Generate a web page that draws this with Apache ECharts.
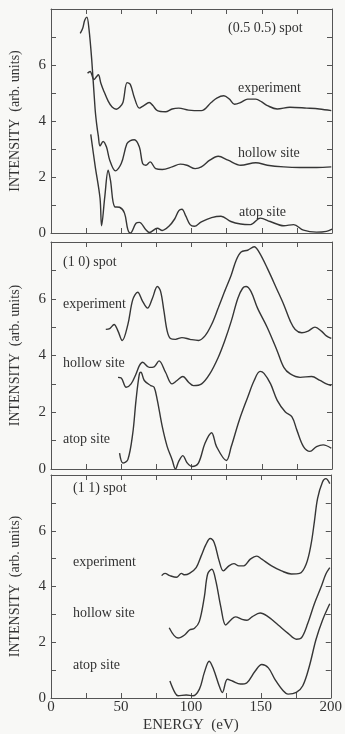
<!DOCTYPE html>
<html>
<head>
<meta charset="utf-8">
<script src="https://cdn.jsdelivr.net/npm/echarts@6/dist/echarts.min.js"></script>
<style>
html,body{margin:0;padding:0;background:#f8f8f6;}
#c{width:345px;height:734px;}
</style>
</head>
<body>
<div id="c"></div>
<script>
// ---- data: [energy (eV), intensity (arb. units)] ----
var xTicks = [0, 50, 100, 150, 200];
var yTicks = [0, 2, 4, 6];
var panelTitles = ['(0.5 0.5) spot', '(1 0) spot', '(1 1) spot'];
var curveNames = ['experiment', 'hollow site', 'atop site'];

var p1Experiment = [[26,5.71],[27.8,5.77],[30.6,5.48],[32.5,5.59],[33.7,5.65],[35.5,5.35],[37.2,5.12],[40.7,4.71],[43.5,4.5],[46.5,4.42],[49,4.5],[51.2,4.66],[54.2,5.37],[56.5,5.3],[59.3,4.84],[62.9,4.46],[66,4.55],[69.9,4.66],[72.5,4.55],[75.7,4.37],[81.5,4.33],[86.2,4.43],[90.9,4.46],[97.9,4.39],[107,4.37],[114,4.66],[118,4.82],[123,4.9],[127,4.78],[130.6,4.6],[135,4.66],[140,4.78],[145.8,4.78],[150,4.68],[154,4.55],[161,4.43],[170,4.49],[182,4.46],[191,4.43],[199.5,4.37]];
var p1Hollow = [[20.8,7.13],[22.5,7.3],[24,7.6],[25.5,7.71],[27,7.3],[29,6.18],[31.4,4.42],[32.5,3.89],[33.7,3.46],[34.9,3.11],[37.1,3.27],[39.5,3.07],[41.8,2.6],[45.8,2.22],[50,2.48],[54,3.19],[56.5,3.3],[59.3,3.33],[62.9,3.07],[65.2,2.48],[67.5,2.42],[70.6,2.54],[74.5,2.3],[79.2,2.27],[86.2,2.36],[92,2.46],[96.7,2.42],[102.6,2.3],[107,2.36],[113,2.6],[119,2.74],[126,2.6],[135,2.42],[145.8,2.51],[154,2.42],[165.7,2.36],[177,2.34],[189,2.34],[199.5,2.36]];
var p1Atop = [[28.3,3.52],[31.4,2.4],[34.9,1.24],[36,0.26],[38.3,1.3],[40.7,2.24],[42.3,1.89],[45.3,0.94],[48.8,0.92],[52.3,0.71],[54.7,0.12],[56.5,0.0],[60.5,0.35],[62.9,0.38],[67.5,0.12],[70,0.02],[75.7,0.17],[79.2,0.09],[83.9,0.24],[88,0.5],[91,0.8],[93.2,0.85],[96,0.6],[99,0.3],[102,0.24],[107,0.4],[114.3,0.55],[121,0.6],[128,0.41],[135,0.32],[142,0.3],[149,0.53],[156,0.41],[165.7,0.26],[172.7,0.3],[179.7,0.1],[189,0.03],[196,0.06],[200,0.14]];

var p2Experiment = [[39,4.92],[41.8,4.95],[44.9,5.09],[47.7,4.86],[50.7,4.53],[54.7,5.09],[58.2,5.97],[61.7,6.23],[65.2,5.91],[68.7,5.67],[72.2,6.02],[75.7,6.43],[78,6.26],[80.4,5.56],[82.7,4.86],[85,4.6],[88.6,4.57],[93.2,4.63],[99,4.57],[105,4.53],[109.6,4.69],[114.3,5.09],[119,5.67],[123.6,6.26],[128.3,6.84],[131.8,7.36],[135.3,7.65],[140,7.71],[144.6,7.83],[148,7.65],[154,7.07],[161,6.31],[165.7,5.79],[170.3,5.21],[173.8,4.92],[178.5,4.8],[183,4.86],[187.9,5.0],[192.5,4.86],[196,4.69],[199.5,4.6]];
var p2Hollow = [[47.7,3.23],[50,3.21],[53.5,2.88],[57,3.0],[60.5,3.35],[62.9,3.64],[65.2,3.76],[69.9,3.58],[73.4,3.6],[76.9,3.81],[81.5,3.41],[86.2,3.0],[89.7,3.12],[93.9,3.26],[97.9,3.06],[101.4,2.94],[107.2,3.0],[113,3.35],[119,3.93],[123.6,4.51],[128.3,5.21],[133,6.02],[136.4,6.37],[138.8,6.43],[142.3,6.26],[147,5.67],[154,4.98],[161,4.16],[165.7,3.58],[170.3,3.35],[177.3,3.23],[185.5,3.26],[191.4,3.12],[196,3.0],[199.5,2.94]];
var p2Atop = [[48.8,0.56],[51.2,0.21],[54.7,0.33],[58.2,1.26],[60.5,2.42],[62.9,3.35],[64,3.41],[66.4,3.12],[71,2.94],[73.4,2.88],[75.7,2.42],[79.2,1.49],[82.7,0.79],[86.2,0.33],[88.6,0.0],[90.9,0.27],[93.9,0.47],[96.7,0.23],[100.2,0.09],[104.9,0.21],[109.6,0.91],[114.3,1.28],[117.8,0.79],[124.8,0.3],[128.3,0.79],[134,1.72],[140,2.53],[144.6,3.12],[148.8,3.44],[151.6,3.37],[156.3,3.0],[161,2.42],[166.8,2.01],[171.5,1.84],[175,1.37],[179.7,0.79],[184.3,0.62],[189,0.79],[193.7,0.85],[199.5,0.73]];

var p3Experiment = [[79.1,4.39],[81.5,4.47],[85,4.39],[89.7,4.33],[93.2,4.47],[95.5,4.42],[99,4.47],[103.8,4.68],[107.3,5.09],[110.8,5.51],[113.8,5.72],[116.7,5.57],[120.2,4.92],[123.2,4.56],[127.2,4.74],[130.8,4.82],[134.3,4.74],[137.8,4.74],[142.5,4.98],[147.2,5.09],[150.7,4.98],[157.7,4.74],[164.8,4.56],[171.8,4.45],[177.7,4.47],[182.4,4.8],[185.9,5.51],[188.3,6.33],[190.6,7.16],[194.1,7.75],[196.5,7.87],[199.3,7.69]];
var p3Hollow = [[84.5,2.52],[90.8,2.15],[95.5,2.26],[99,2.44],[102.6,2.5],[106,2.74],[109.6,3.62],[112,4.45],[115,4.62],[117.8,4.21],[121.4,3.27],[124.9,2.62],[128.4,2.79],[131.9,2.91],[136.6,2.82],[140.1,2.79],[143.7,2.91],[149.5,3.05],[155.4,2.91],[162.4,2.62],[169.5,2.32],[175.4,2.11],[178.9,2.15],[183.6,2.68],[188.3,3.38],[193,3.97],[196.5,4.45],[199.3,4.68]];
var p3Atop = [[85,0.61],[88.5,0.2],[90.8,0.08],[96.7,0.11],[101.4,0.08],[106.1,0.32],[109.6,0.91],[113.1,1.32],[116.2,1.03],[120.2,0.44],[122.5,0.2],[126.1,0.67],[129.6,0.61],[135.4,0.5],[140.1,0.55],[146,0.97],[150.7,1.2],[155.4,1.08],[160.1,0.67],[166,0.26],[169.5,0.14],[175.4,0.2],[180,0.44],[184.7,1.14],[189.4,2.09],[194.1,2.79],[199.3,3.38]];

var panels = [[p1Experiment, p1Hollow, p1Atop],[p2Experiment, p2Hollow, p2Atop],[p3Experiment, p3Hollow, p3Atop]];

// ---- layout ----
var FONT = '"Liberation Serif", "DejaVu Serif", serif';
var INK = '#363636';
var AX = '#555';
var grids = [
  {left: 47, right: 13, top: 9, height: 224},
  {left: 47, right: 13, top: 242, height: 227},
  {left: 47, right: 13, top: 475, height: 227}
];
var labelPos = [
  {title:[228,21], names:[[238,81],[238,146],[239,205]]},
  {title:[63,255], names:[[63,297],[63,356],[63,432]]},
  {title:[73,481], names:[[73,555],[73,606],[73,658]]}
];

var xAxes = [], yAxes = [], series = [], graphics = [];
for (var i = 0; i < 3; i++) {
  var last = (i === 2);
  xAxes.push({
    type:'value', gridIndex:i, position:'bottom', min:0, max:200, interval:25,
    axisLine:{show:true, onZero:false, lineStyle:{color:AX, width:1}},
    axisTick:{show:true, inside:true, length:5, lineStyle:{color:AX}},
    splitLine:{show:false},
    axisLabel:{show:last, margin:2, fontFamily:FONT, fontSize:15, color:'#333',
      formatter:function(v){ return xTicks.indexOf(v) >= 0 ? String(v) : ''; }},
    name: last ? 'ENERGY  (eV)' : '', nameLocation:'middle', nameGap:20,
    nameTextStyle:{fontFamily:FONT, fontSize:15, color:'#333'}
  });
  yAxes.push({
    type:'value', gridIndex:i, position:'left', min:0, max:8, interval:1,
    axisLine:{show:true, onZero:false, lineStyle:{color:AX, width:1}},
    axisTick:{show:true, inside:true, length:5, lineStyle:{color:AX}},
    splitLine:{show:false},
    axisLabel:{margin:5, fontFamily:FONT, fontSize:15, color:'#333',
      formatter:function(v){ return yTicks.indexOf(v) >= 0 ? String(v) : ''; }},
    name:'INTENSITY  (arb. units)', nameLocation:'middle', nameGap:29,
    nameTextStyle:{fontFamily:FONT, fontSize:14, color:'#333'}
  });
}
for (var i = 0; i < 3; i++) {
  xAxes.push({
    type:'value', gridIndex:i, position:'top', min:0, max:200, interval:25,
    axisLine:{show:true, onZero:false, lineStyle:{color:AX, width:1}},
    axisTick:{show:true, inside:true, length:5, lineStyle:{color:AX}},
    splitLine:{show:false}, axisLabel:{show:false}
  });
  yAxes.push({
    type:'value', gridIndex:i, position:'right', min:0, max:8, interval:1,
    axisLine:{show:true, onZero:false, lineStyle:{color:AX, width:1}},
    axisTick:{show:true, inside:true, length:5, lineStyle:{color:AX}},
    splitLine:{show:false}, axisLabel:{show:false}
  });
}
for (var i = 0; i < 3; i++) {
  for (var k = 0; k < 3; k++) {
    series.push({
      type:'line', name: curveNames[k] + ' ' + (i+1), xAxisIndex:i, yAxisIndex:i,
      data: panels[i][k], smooth:0.35, symbol:'none', clip:true,
      lineStyle:{color:INK, width:1.4}, silent:true
    });
  }
  var lp = labelPos[i];
  graphics.push({type:'text', left:lp.title[0], top:lp.title[1],
    style:{text:panelTitles[i], font:'14px ' + FONT, fill:'#333'}});
  for (var k = 0; k < 3; k++) {
    graphics.push({type:'text', left:lp.names[k][0], top:lp.names[k][1],
      style:{text:curveNames[k], font:'14px ' + FONT, fill:'#333'}});
  }
}

var chart = echarts.init(document.getElementById('c'), null, {renderer:'canvas'});
chart.setOption({
  backgroundColor:'#f8f8f6',
  animation:false,
  grid: grids,
  xAxis: xAxes,
  yAxis: yAxes,
  series: series,
  graphic: graphics
});
</script>
</body>
</html>
